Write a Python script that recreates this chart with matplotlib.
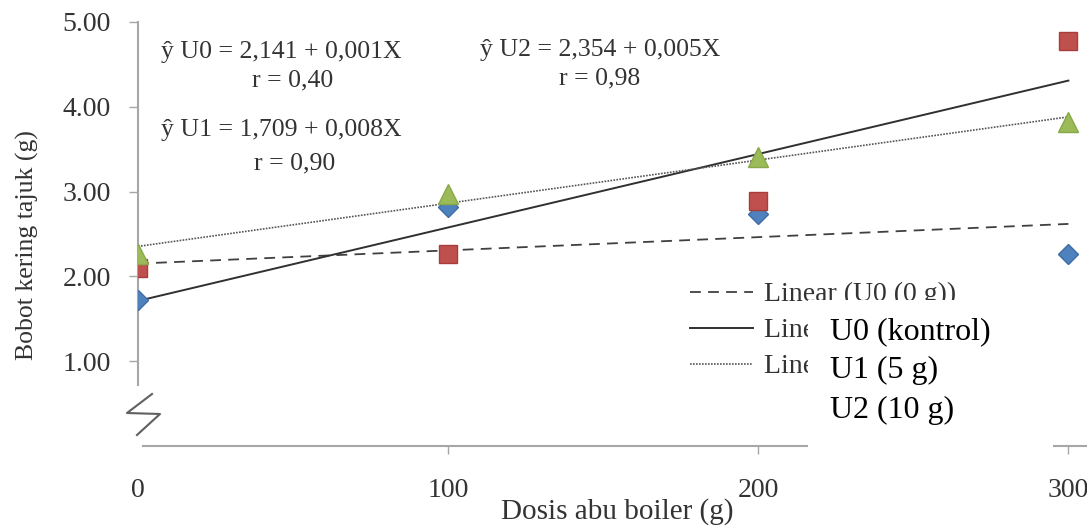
import numpy as np
import matplotlib
matplotlib.use("Agg")
import matplotlib.pyplot as plt
from matplotlib.patches import Rectangle

# data
dosis = [0, 100, 200, 300]
u0_vals = [1.72, 2.82, 2.73, 2.27]
u1_vals = [2.10, 2.27, 2.89, 4.78]
u2_vals = [2.27, 2.97, 3.41, 3.82]
y_ticks = [1, 2, 3, 4, 5]
trend_labels = ["Linear (U0 (0 g))", "Linear (U1 (5 g))", "Linear (U2 (10 g))"]
box_labels = ["U0 (kontrol)", "U1 (5 g)", "U2 (10 g)"]
equations = [
    ("ŷ U0 = 2,141 + 0,001X", "r = 0,40"),
    ("ŷ U1 = 1,709 + 0,008X", "r = 0,90"),
    ("ŷ U2 = 2,354 + 0,005X", "r = 0,98"),
]

W, H = 1087, 526
plt.rcParams["font.family"] = ["Liberation Serif", "DejaVu Serif"]
TXT = "#333333"
GRID = "#a6a6a6"


def fx(px):
    return px / W


def fy(py):
    return 1 - py / H


fig = plt.figure(figsize=(W / 100, H / 100), dpi=100)
ax = fig.add_axes([fx(138), fy(446), 1 - fx(138), fy(22) - fy(446)])
ax.set_xlim(0, 306)
ax.set_ylim(0, 5)

x = np.array(dosis, dtype=float)
xs = np.array([dosis[0], dosis[-1]], dtype=float)
styles = [
    dict(color="#404040", lw=1.3, linestyle=(0, (6, 4))),
    dict(color="#303030", lw=1.4, linestyle="-"),
    dict(color="#555555", lw=1.2, linestyle=(0, (1, 0.8))),
]
# excel-style linear trendlines
for vals, st, lab in zip([u0_vals, u1_vals, u2_vals], styles, trend_labels):
    b, a = np.polyfit(x, vals, 1)
    ax.plot(xs, a + b * xs, label=lab, zorder=2, **st)

ax.plot(x, u0_vals, "D", color="#4f81bd", ms=10, mec="#3d6da8", zorder=3)
ax.plot(x, u1_vals, "s", color="#c0504d", ms=12.5, mec="#a83e3b", zorder=3)
ax.plot(x, u2_vals, "^", color="#9bbb59", ms=14, mec="#89a84a", zorder=3)

for s in ["top", "right"]:
    ax.spines[s].set_visible(False)
for s in ["left", "bottom"]:
    ax.spines[s].set_color(GRID)
    ax.spines[s].set_linewidth(1.5)
ax.spines["left"].set_bounds(0.72, 5)
ax.spines["bottom"].set_bounds(1.5, 306)

ax.set_yticks(y_ticks)
ax.set_yticklabels([f"{v:.2f}" for v in y_ticks])
ax.set_xticks(dosis)
ax.set_xticklabels([str(d) for d in dosis])
ax.tick_params(axis="y", direction="out", length=6.5, width=1, color=GRID,
               labelsize=20, labelcolor=TXT, pad=13)
ax.tick_params(axis="x", direction="out", length=6, width=1, color=GRID,
               labelsize=20, labelcolor=TXT, pad=17)
for lbl in ax.get_xticklabels():
    lbl.set_clip_on(False)
# no tick under the axis break
ax.xaxis.get_major_ticks()[0].tick1line.set_visible(False)

# axis break mark
bx = [(152 - 138) / 949, (127 - 138) / 949, (160 - 138) / 949, (137 - 138) / 949]
by = [(446 - 394) / 424, (446 - 413) / 424, (446 - 414) / 424, (446 - 435) / 424]
ax.plot(bx, by, color="#606060", lw=1.5, transform=ax.transAxes, clip_on=False)

leg = ax.legend(loc="upper left", bbox_to_anchor=(fx(690), fy(282)),
                bbox_transform=fig.transFigure, frameon=False, fontsize=20,
                handlelength=2.25, handletextpad=0.4, borderpad=0,
                borderaxespad=0, labelspacing=0.38)
for t in leg.get_texts():
    t.set_color(TXT)

# equations
eq_pos = [(281, 52, 293, 80), (281, 130, 295, 163), (600, 50, 600, 78)]
for (eq, r), (x1, y1, x2, y2) in zip(equations, eq_pos):
    fig.text(fx(x1), fy(y1), eq, ha="center", va="center", fontsize=18.5, color=TXT)
    fig.text(fx(x2), fy(y2), r, ha="center", va="center", fontsize=18.5, color=TXT)

fig.text(fx(27), fy(245), "Bobot kering tajuk (g)", rotation=90, ha="center",
         va="center", fontsize=18.5, color=TXT)
fig.text(fx(617), fy(512), "Dosis abu boiler (g)", ha="center", va="center",
         fontsize=21, color=TXT)

# white box pasted over the legend
fig.patches.append(Rectangle((fx(808), fy(460)), fx(1053) - fx(808), fy(300) - fy(460),
                             transform=fig.transFigure, facecolor="white",
                             edgecolor="none", zorder=5))
for lab, py in zip(box_labels, [332, 370, 410]):
    fig.text(fx(830), fy(py), lab, ha="left", va="center", fontsize=23,
             color="black", zorder=6, family=["Liberation Serif"])

fig.savefig("out.png", dpi=100)
